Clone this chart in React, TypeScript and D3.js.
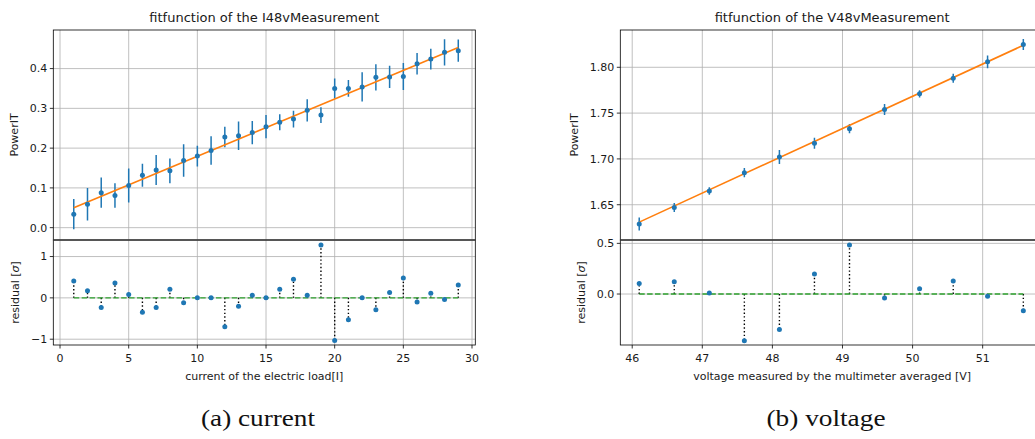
import { useEffect, useRef } from 'react';
import * as d3 from 'd3';

/* ── current measurement (left) ── */
const curX = [1, 2, 3, 4, 5, 6, 7, 8, 9, 10, 11, 12, 13, 14, 15, 16, 17, 18, 19, 20, 21, 22, 23, 24, 25, 26, 27, 28, 29];
const curY = [0.034, 0.059, 0.088, 0.081, 0.106, 0.132, 0.145, 0.143, 0.169, 0.180, 0.194, 0.228, 0.231, 0.239, 0.254, 0.265, 0.273, 0.295, 0.283, 0.350, 0.350, 0.354, 0.378, 0.379, 0.380, 0.412, 0.424, 0.441, 0.445];
const curErr = [0.038, 0.041, 0.038, 0.031, 0.043, 0.029, 0.038, 0.031, 0.041, 0.026, 0.036, 0.026, 0.036, 0.029, 0.029, 0.020, 0.021, 0.028, 0.020, 0.025, 0.021, 0.037, 0.033, 0.028, 0.034, 0.027, 0.026, 0.033, 0.028];
const curRes = [0.41, 0.17, -0.23, 0.36, 0.08, -0.35, -0.23, 0.21, -0.12, 0, 0, -0.70, -0.20, 0.065, 0, 0.21, 0.45, 0.065, 1.28, -1.03, -0.53, 0, -0.29, 0.13, 0.48, -0.10, 0.11, -0.04, 0.31];
const curFitX = [1, 29];
const curFitY = [0.050, 0.453];
const curXTicks = [0, 5, 10, 15, 20, 25, 30];
const curYTicks = [0.0, 0.1, 0.2, 0.3, 0.4];
const curResTicks = [-1, 0, 1];

/* ── voltage measurement (right) ── */
const volX = [46.1, 46.6, 47.1, 47.6, 48.1, 48.6, 49.1, 49.6, 50.1, 50.58, 51.07, 51.58];
const volY = [1.629, 1.647, 1.665, 1.685, 1.702, 1.717, 1.733, 1.754, 1.771, 1.788, 1.806, 1.825];
const volErr = [0.007, 0.005, 0.004, 0.005, 0.0076, 0.006, 0.005, 0.006, 0.004, 0.005, 0.007, 0.006];
const volRes = [0.105, 0.12, 0.01, -0.46, -0.35, 0.197, 0.483, -0.04, 0.052, 0.128, -0.023, -0.165];
const volFitX = [46.1, 51.58];
const volFitY = [1.631, 1.824];
const volXTicks = [46, 47, 48, 49, 50, 51];
const volYTicks = [1.65, 1.70, 1.75, 1.80];
const volResTicks = [0.0, 0.5];

const FONT = '"DejaVu Sans", sans-serif';
const BLUE = '#1f77b4';
const ORANGE = '#ff7f0e';
const GREEN = '#2ca02c';
const GRID = '#b0b0b0';
const TXT = '#1a1a1a';

interface PanelSpec {
  left: number;
  right: number;
  xDomain: [number, number];
  yDomain: [number, number];
  rDomain: [number, number];
  xs: number[];
  ys: number[];
  errs: number[];
  res: number[];
  fitX: number[];
  fitY: number[];
  xTicks: number[];
  yTicks: number[];
  rTicks: number[];
  yFmt: (v: number) => string;
  rFmt: (v: number) => string;
  title: string;
  xLabel: string;
  yLabelX: number;
  rLabelX: number;
  caption: string;
  captionX: number;
  captionW: number;
}

const TOP = 30;
const MID = 240;
const BOT = 345;

const minus = (s: string) => s.replace('-', '\u2212');

function drawPanel(svg: d3.Selection<SVGSVGElement, unknown, null, undefined>, p: PanelSpec) {
  const x = d3.scaleLinear().domain(p.xDomain).range([p.left, p.right]);
  const y = d3.scaleLinear().domain(p.yDomain).range([MID, TOP]);
  const r = d3.scaleLinear().domain(p.rDomain).range([BOT, MID]);
  const g = svg.append('g');

  const clipId = 'clip' + Math.round(p.left);
  svg.append('clipPath').attr('id', clipId)
    .append('rect').attr('x', p.left).attr('y', TOP).attr('width', p.right - p.left).attr('height', BOT - TOP);

  // ── grid ──
  const grid = g.append('g').attr('stroke', GRID).attr('stroke-width', 0.8);
  p.xTicks.forEach(t => {
    grid.append('line').attr('x1', x(t)).attr('x2', x(t)).attr('y1', TOP).attr('y2', BOT);
  });
  p.yTicks.forEach(t => {
    grid.append('line').attr('x1', p.left).attr('x2', p.right).attr('y1', y(t)).attr('y2', y(t));
  });
  p.rTicks.forEach(t => {
    grid.append('line').attr('x1', p.left).attr('x2', p.right).attr('y1', r(t)).attr('y2', r(t));
  });

  const plot = g.append('g').attr('clip-path', `url(#${clipId})`);

  // ── error bars ──
  p.xs.forEach((xv, i) => {
    plot.append('line')
      .attr('x1', x(xv)).attr('x2', x(xv))
      .attr('y1', y(p.ys[i] - p.errs[i])).attr('y2', y(p.ys[i] + p.errs[i]))
      .attr('stroke', BLUE).attr('stroke-width', 1.5);
  });

  // ── fit line ──
  const line = d3.line<number>().x((d, i) => x(p.fitX[i])).y(d => y(d));
  plot.append('path').attr('d', line(p.fitY)).attr('fill', 'none')
    .attr('stroke', ORANGE).attr('stroke-width', 1.6);

  p.xs.forEach((xv, i) => {
    plot.append('circle').attr('cx', x(xv)).attr('cy', y(p.ys[i])).attr('r', 2.5).attr('fill', BLUE);
  });

  // ── residuals ──
  p.xs.forEach((xv, i) => {
    plot.append('line')
      .attr('x1', x(xv)).attr('x2', x(xv))
      .attr('y1', r(0)).attr('y2', r(p.res[i]))
      .attr('stroke', '#000').attr('stroke-width', 1.4).attr('stroke-dasharray', '1.4,2.3');
  });
  plot.append('line')
    .attr('x1', x(p.xs[0])).attr('x2', x(p.xs[p.xs.length - 1]))
    .attr('y1', r(0)).attr('y2', r(0))
    .attr('stroke', GREEN).attr('stroke-width', 1.4).attr('stroke-dasharray', '5.5,2.4');
  p.xs.forEach((xv, i) => {
    plot.append('circle').attr('cx', x(xv)).attr('cy', r(p.res[i])).attr('r', 2.5).attr('fill', BLUE);
  });

  // ── spines ──
  const sp = g.append('g').attr('stroke', '#000').attr('stroke-width', 0.8).attr('fill', 'none');
  sp.append('rect').attr('x', p.left).attr('y', TOP).attr('width', p.right - p.left).attr('height', MID - TOP);
  sp.append('rect').attr('x', p.left).attr('y', MID).attr('width', p.right - p.left).attr('height', BOT - MID);
  sp.append('line').attr('x1', p.left).attr('x2', p.right).attr('y1', MID).attr('y2', MID)
    .attr('stroke', '#555').attr('stroke-width', 1.6);

  // ── ticks ──
  const tk = g.append('g').attr('font-family', FONT).attr('font-size', 11).attr('fill', TXT);
  p.yTicks.forEach(t => {
    tk.append('line').attr('x1', p.left - 3.5).attr('x2', p.left).attr('y1', y(t)).attr('y2', y(t)).attr('stroke', '#000').attr('stroke-width', 0.8);
    tk.append('text').attr('x', p.left - 6).attr('y', y(t)).attr('dy', '0.35em').attr('text-anchor', 'end').text(p.yFmt(t));
  });
  p.rTicks.forEach(t => {
    tk.append('line').attr('x1', p.left - 3.5).attr('x2', p.left).attr('y1', r(t)).attr('y2', r(t)).attr('stroke', '#000').attr('stroke-width', 0.8);
    tk.append('text').attr('x', p.left - 6).attr('y', r(t)).attr('dy', '0.35em').attr('text-anchor', 'end').text(p.rFmt(t));
  });
  p.xTicks.forEach(t => {
    tk.append('line').attr('x1', x(t)).attr('x2', x(t)).attr('y1', BOT).attr('y2', BOT + 3.5).attr('stroke', '#000').attr('stroke-width', 0.8);
    tk.append('text').attr('x', x(t)).attr('y', BOT + 17).attr('text-anchor', 'middle').text(String(t));
  });

  // ── labels ──
  const cx = (p.left + p.right) / 2;
  g.append('text').attr('x', cx).attr('y', 22).attr('text-anchor', 'middle')
    .attr('font-family', FONT).attr('font-size', 13).attr('fill', TXT).text(p.title);
  g.append('text').attr('x', cx).attr('y', 380).attr('text-anchor', 'middle')
    .attr('font-family', FONT).attr('font-size', 11).attr('fill', TXT).text(p.xLabel);
  g.append('text').attr('transform', `translate(${p.yLabelX},${(TOP + MID) / 2}) rotate(-90)`)
    .attr('text-anchor', 'middle').attr('dy', '0.35em')
    .attr('font-family', FONT).attr('font-size', 11).attr('fill', TXT).text('PowerIT');
  const rl = g.append('text').attr('transform', `translate(${p.rLabelX},${(MID + BOT) / 2}) rotate(-90)`)
    .attr('text-anchor', 'middle').attr('dy', '0.35em')
    .attr('font-family', FONT).attr('font-size', 11).attr('fill', TXT);
  rl.append('tspan').text('residual [');
  rl.append('tspan').attr('font-style', 'italic').text('σ');
  rl.append('tspan').text(']');

  // caption (Computer Modern look-alike, stretched to the same width)
  g.append('text').attr('x', p.captionX - p.captionW / 2).attr('y', 426)
    .attr('font-family', '"Liberation Serif", "DejaVu Serif", serif').attr('font-size', 23).attr('fill', '#111')
    .attr('textLength', p.captionW).attr('lengthAdjust', 'spacingAndGlyphs')
    .text(p.caption);
}

export default function App() {
  const svgRef = useRef<SVGSVGElement>(null);

  useEffect(() => {
    const svgEl = svgRef.current;
    if (!svgEl) return;
    const svg = d3.select(svgEl);
    svg.selectAll('*').remove();

    drawPanel(svg, {
      left: 53.3, right: 475.3,
      xDomain: [-0.49, 30.24], yDomain: [-0.031, 0.497], rDomain: [-1.14, 1.40],
      xs: curX, ys: curY, errs: curErr, res: curRes, fitX: curFitX, fitY: curFitY,
      xTicks: curXTicks, yTicks: curYTicks, rTicks: curResTicks,
      yFmt: v => v.toFixed(1), rFmt: v => minus(String(v)),
      title: 'fitfunction of the I48vMeasurement',
      xLabel: 'current of the electric load[I]',
      yLabelX: 14, rLabelX: 15,
      caption: '(a) current', captionX: 258, captionW: 114,
    });

    drawPanel(svg, {
      left: 620.3, right: 1044,
      xDomain: [45.83, 51.875], yDomain: [1.6115, 1.8407], rDomain: [-0.503, 0.533],
      xs: volX, ys: volY, errs: volErr, res: volRes, fitX: volFitX, fitY: volFitY,
      xTicks: volXTicks, yTicks: volYTicks, rTicks: volResTicks,
      yFmt: v => v.toFixed(2), rFmt: v => v.toFixed(1),
      title: 'fitfunction of the V48vMeasurement',
      xLabel: 'voltage measured by the multimeter averaged [V]',
      yLabelX: 574, rLabelX: 581,
      caption: '(b) voltage', captionX: 826, captionW: 119,
    });
  }, []);

  return (
    <div style={{ position: 'fixed', left: 0, top: 0, width: 1035, height: 439, background: '#fff', overflow: 'hidden' }}>
      <svg ref={svgRef} width={1035} height={439} style={{ display: 'block' }} />
    </div>
  );
}
